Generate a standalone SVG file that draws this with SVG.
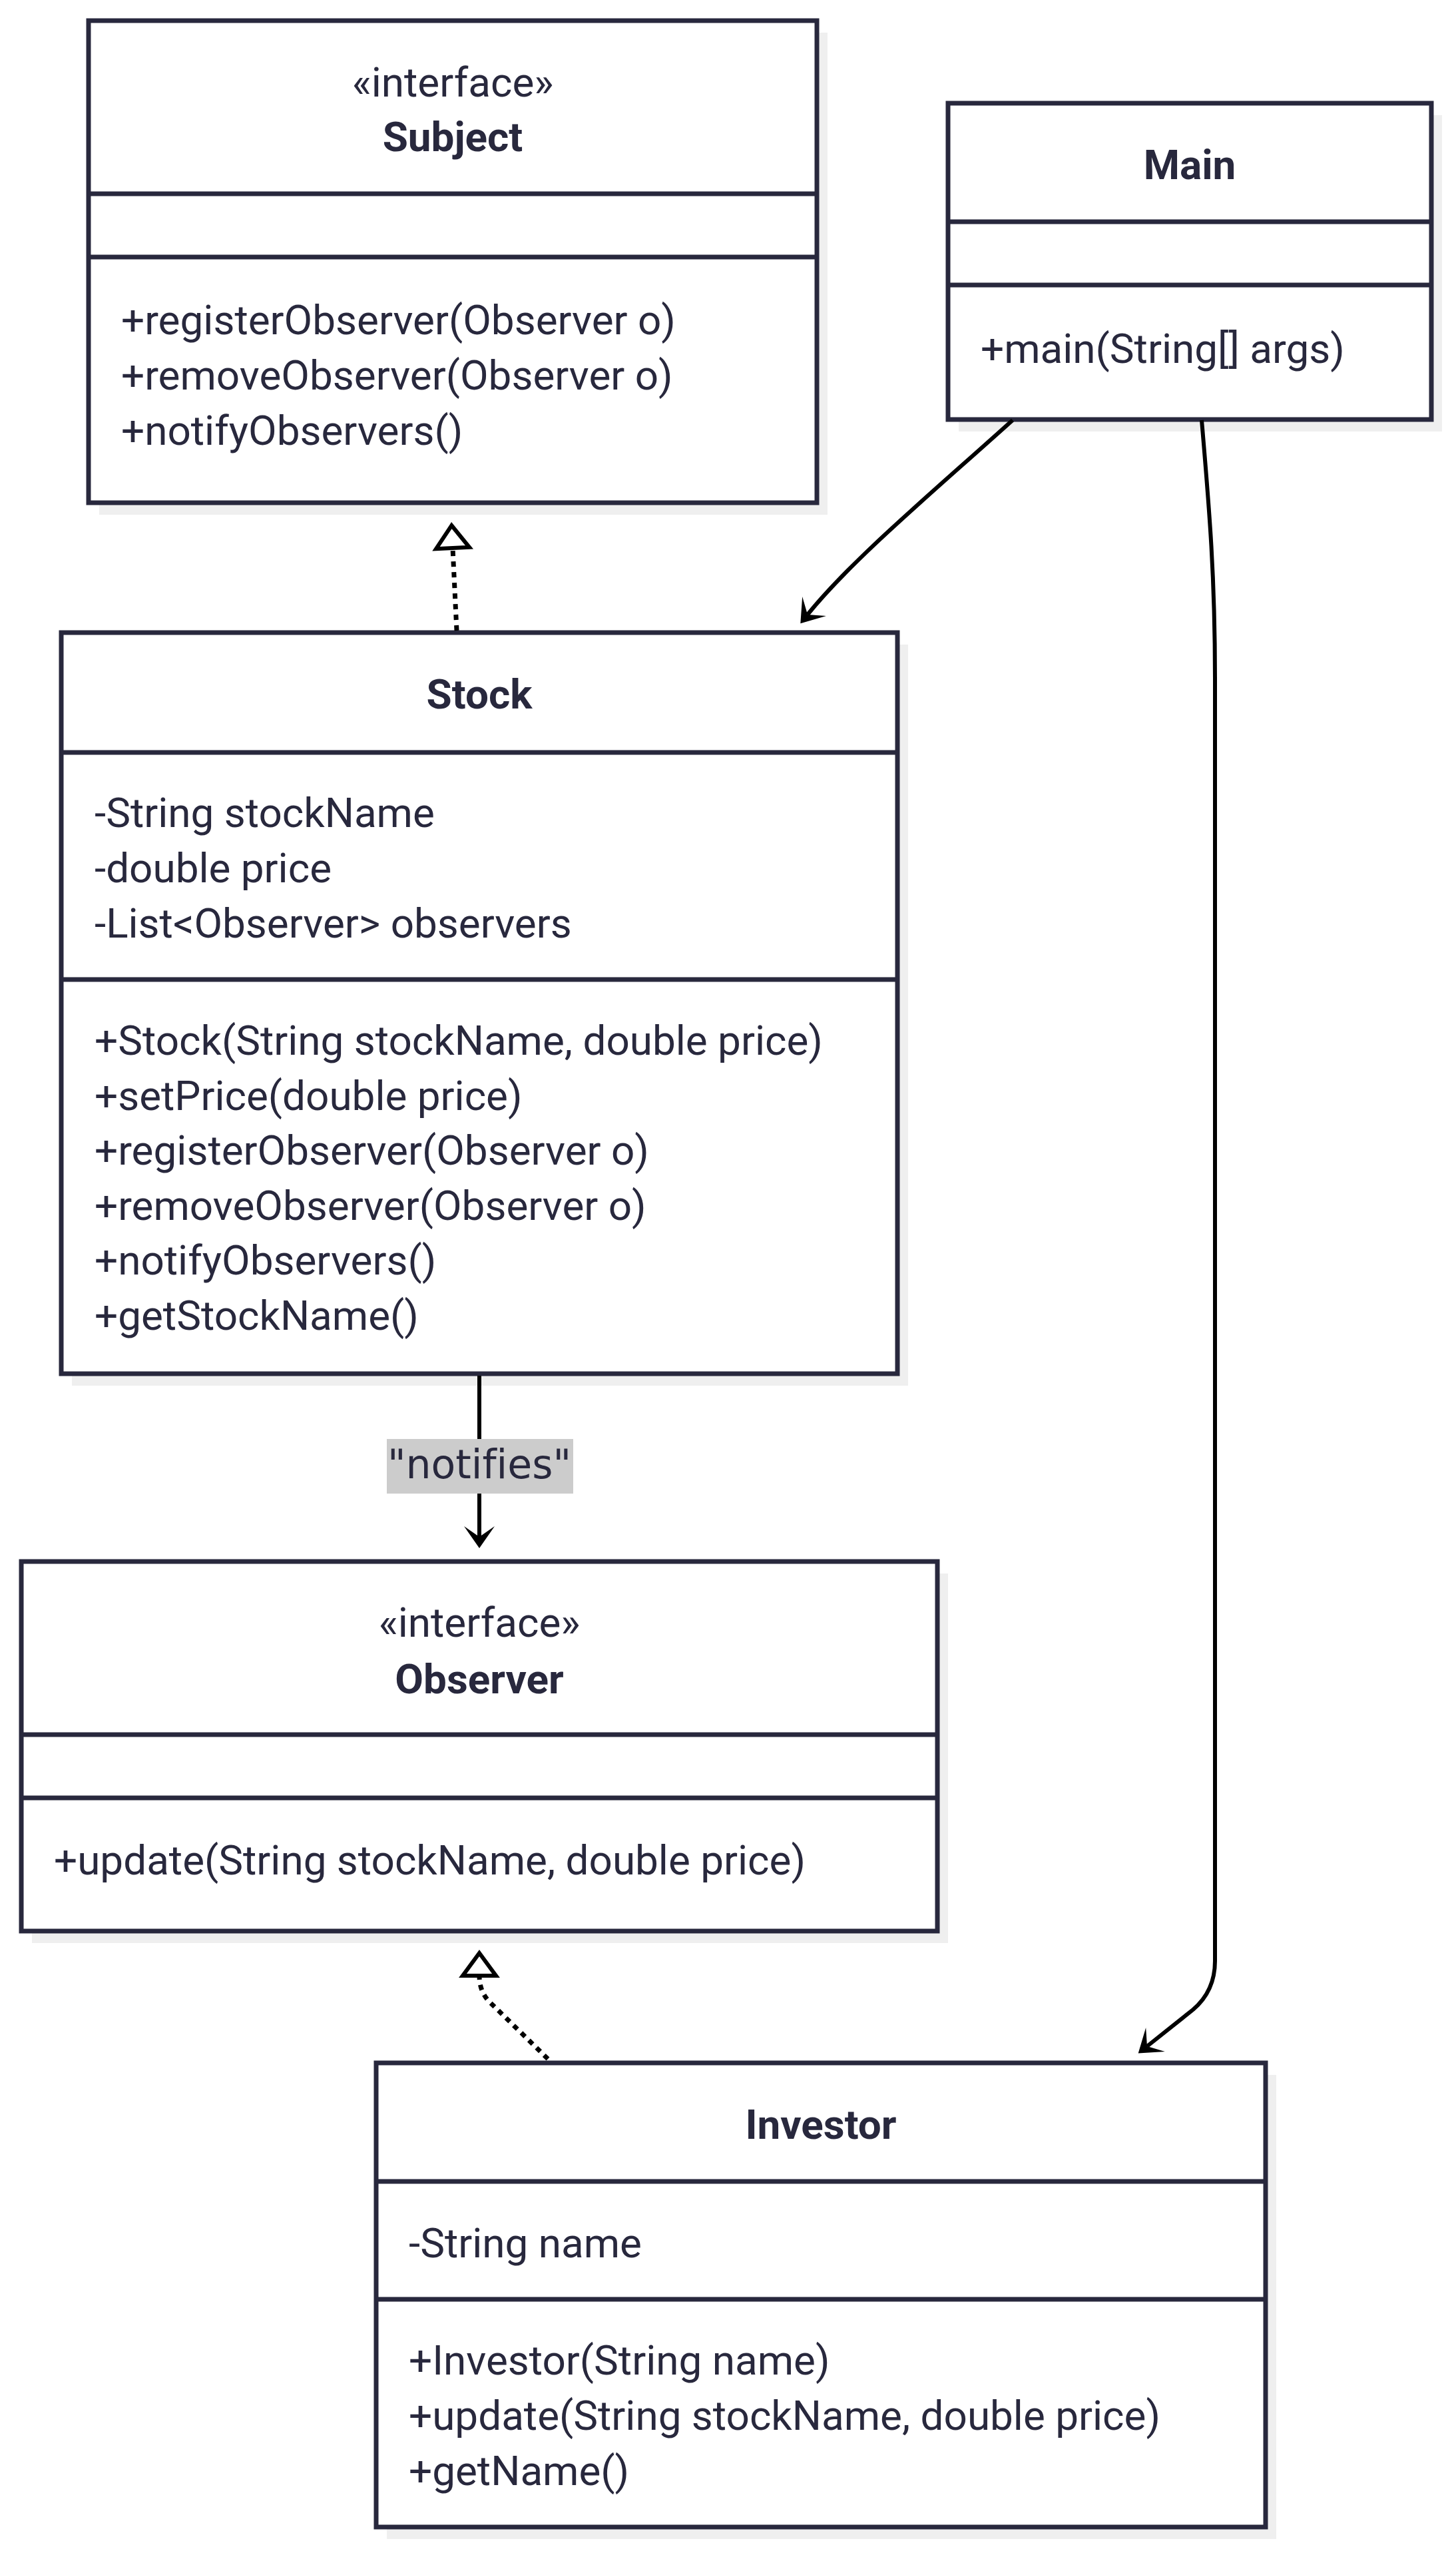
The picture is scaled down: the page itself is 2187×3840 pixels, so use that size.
<svg xmlns="http://www.w3.org/2000/svg" width="2187" height="3840" viewBox="0 0 2187 3840">
<style>
.bg{fill:#ffffff}
.sh{fill:#efefef}
.box{fill:#ffffff;stroke:#28283d;stroke-width:7}
.dv{stroke:#28283d;stroke-width:7}
.t{font-family:Roboto,"Liberation Sans",sans-serif;font-size:62px;fill:#28283d;font-variant-ligatures:none}
.c{text-anchor:middle}
.b{font-weight:bold;text-anchor:middle}
.edge{fill:none;stroke:#000000;stroke-width:6}
.dot{stroke-dasharray:8 8;stroke-width:7}
.lbg{fill:#cccccc}
.lt{font-family:"DejaVu Sans",Verdana,sans-serif;font-size:60px;fill:#28283d;text-anchor:middle;font-variant-ligatures:none}
</style>
<defs>
<marker id="dep" markerUnits="userSpaceOnUse" orient="auto" overflow="visible" refX="0" refY="0" markerWidth="40" markerHeight="50">
<path d="M17,0 L-16,-23 L0,0 L-16,23 Z" fill="#000000" stroke="none"/>
</marker>
<marker id="tri" markerUnits="userSpaceOnUse" orient="auto" overflow="visible" refX="0" refY="0" markerWidth="40" markerHeight="60">
<path d="M34,0 L0,-25 L0,25 Z" fill="#ffffff" stroke="#000000" stroke-width="6" stroke-dasharray="none"/>
</marker>
</defs>
<rect class="bg" x="0" y="0" width="2187" height="3840"/>

<g id="Subject">
<rect class="sh" x="149" y="49" width="1094" height="724"/>
<rect class="box" x="133" y="31" width="1094" height="724"/>
<line class="dv" x1="133" y1="291" x2="1227" y2="291"/>
<line class="dv" x1="133" y1="386" x2="1227" y2="386"/>
<text class="t c" x="680" y="145">«interface»</text>
<text class="t b" x="680" y="227">Subject</text>
<text class="t" x="182" y="502">+registerObserver(Observer o)</text>
<text class="t" x="182" y="585">+removeObserver(Observer o)</text>
<text class="t" x="182" y="668">+notifyObservers()</text>
</g>

<g id="Main">
<rect class="sh" x="1440" y="173" width="726" height="475"/>
<rect class="box" x="1424" y="155" width="726" height="475"/>
<line class="dv" x1="1424" y1="333" x2="2150" y2="333"/>
<line class="dv" x1="1424" y1="428" x2="2150" y2="428"/>
<text class="t b" x="1787" y="269">Main</text>
<text class="t" x="1473" y="545">+main(String[] args)</text>
</g>

<g id="Stock">
<rect class="sh" x="108" y="968" width="1256" height="1113"/>
<rect class="box" x="92" y="950" width="1256" height="1113"/>
<line class="dv" x1="92" y1="1130" x2="1348" y2="1130"/>
<line class="dv" x1="92" y1="1471" x2="1348" y2="1471"/>
<text class="t b" x="720" y="1064">Stock</text>
<text class="t" x="142" y="1242">-String stockName</text>
<text class="t" x="142" y="1325">-double price</text>
<text class="t" x="142" y="1408">-List&lt;Observer&gt; observers</text>
<text class="t" x="142" y="1584">+Stock(String stockName, double price)</text>
<text class="t" x="142" y="1667">+setPrice(double price)</text>
<text class="t" x="142" y="1749">+registerObserver(Observer o)</text>
<text class="t" x="142" y="1832">+removeObserver(Observer o)</text>
<text class="t" x="142" y="1914">+notifyObservers()</text>
<text class="t" x="142" y="1997">+getStockName()</text>
</g>

<g id="Observer">
<rect class="sh" x="48" y="2363" width="1376" height="555"/>
<rect class="box" x="32" y="2345" width="1376" height="555"/>
<line class="dv" x1="32" y1="2605" x2="1408" y2="2605"/>
<line class="dv" x1="32" y1="2700" x2="1408" y2="2700"/>
<text class="t c" x="720" y="2458">«interface»</text>
<text class="t b" x="720" y="2543">Observer</text>
<text class="t" x="81" y="2815">+update(String stockName, double price)</text>
</g>

<g id="Investor">
<rect class="sh" x="581" y="3116" width="1336" height="697"/>
<rect class="box" x="565" y="3098" width="1336" height="697"/>
<line class="dv" x1="565" y1="3276" x2="1901" y2="3276"/>
<line class="dv" x1="565" y1="3453" x2="1901" y2="3453"/>
<text class="t b" x="1233" y="3212">Investor</text>
<text class="t" x="614" y="3390">-String name</text>
<text class="t" x="614" y="3566">+Investor(String name)</text>
<text class="t" x="614" y="3649">+update(String stockName, double price)</text>
<text class="t" x="614" y="3732">+getName()</text>
</g>

<g id="connectors">
<path class="edge dot" d="M686,947 L680,823" marker-end="url(#tri)"/>
<path class="edge dot" d="M823,3092 L737,3008 Q720,2992 720,2967" marker-end="url(#tri)"/>
<path class="edge" d="M1521,631 C1400,740 1280,840 1213,923" marker-end="url(#dep)"/>
<path class="edge" d="M1805,631 C1816,760 1825,860 1825,1020 L1825,2945 Q1825,2990 1792,3018 L1723,3073" marker-end="url(#dep)"/>
<path class="edge" d="M720,2066 L720,2308" marker-end="url(#dep)"/>
<g id="label-notifies">
<rect class="lbg" x="581" y="2161" width="280" height="82"/>
<text class="lt" x="720" y="2220">"notifies"</text>
</g>
</g>
</svg>
